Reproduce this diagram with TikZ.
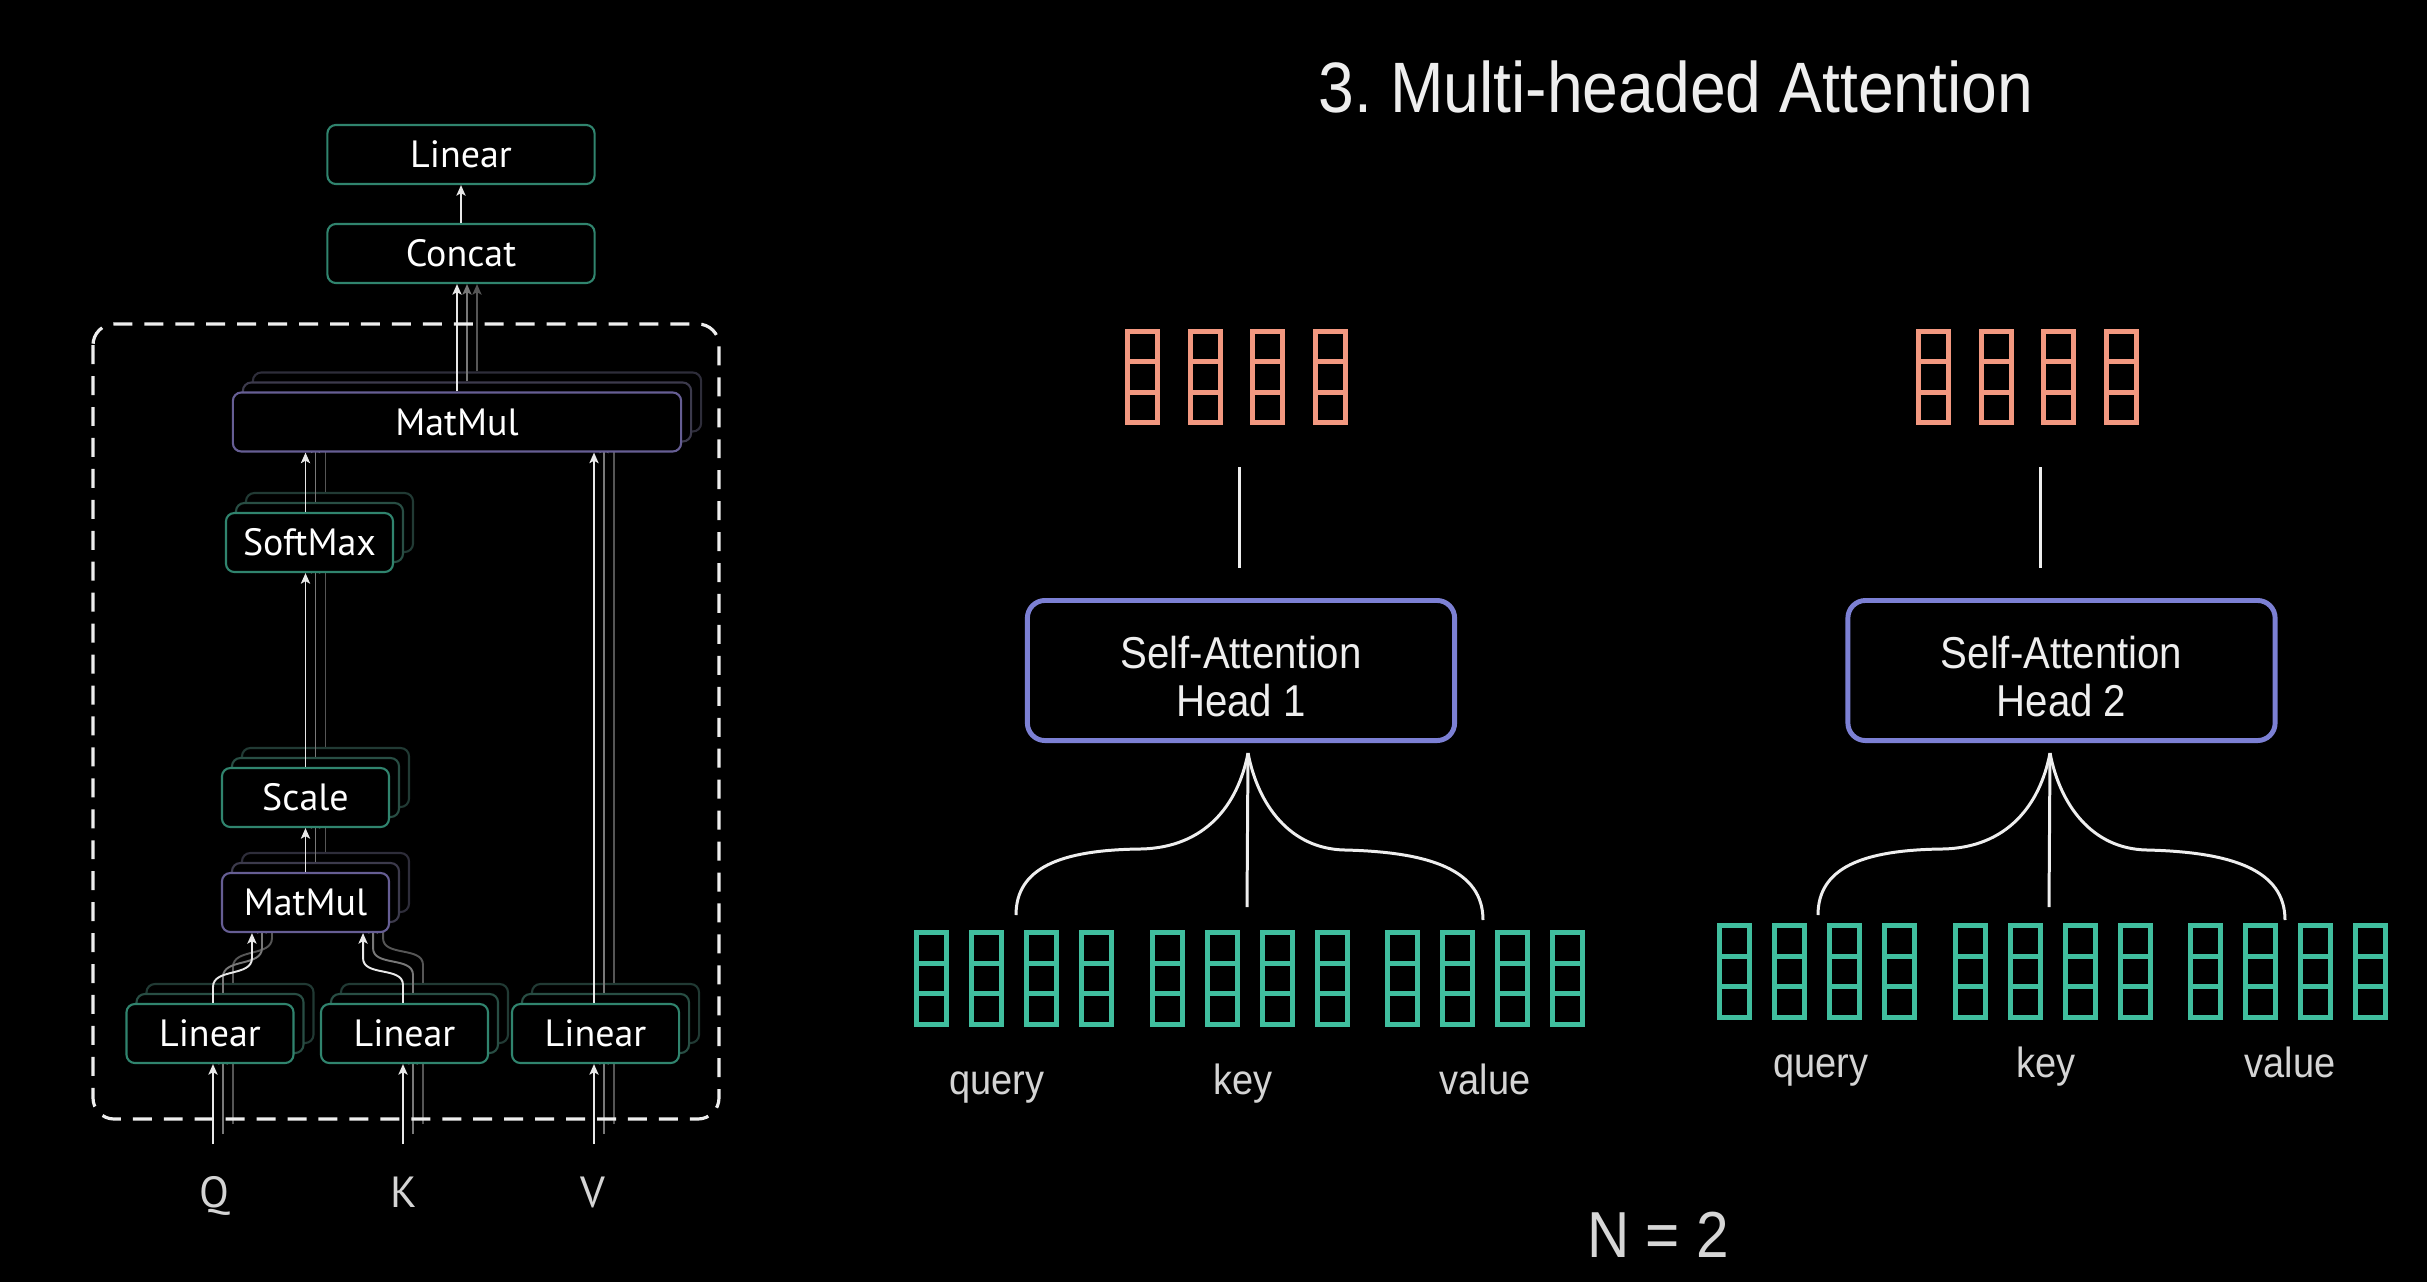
\documentclass[tikz,border=0pt]{standalone}
\usepackage{fontspec}
\usetikzlibrary{arrows.meta, calc, positioning}
\newfontfamily\ptsans{PT Sans}
\newfontfamily\robo[FakeStretch=0.9]{Liberation Sans}
\definecolor{teal0}{RGB}{48, 132, 110}
\definecolor{teal1}{RGB}{40, 78, 68}
\definecolor{teal2}{RGB}{33, 58, 52}
\definecolor{purp0}{RGB}{102, 94, 148}
\definecolor{purp1}{RGB}{60, 58, 76}
\definecolor{purp2}{RGB}{46, 45, 58}
\definecolor{arr0}{RGB}{232, 232, 232}
\definecolor{arr1}{RGB}{120, 120, 120}
\definecolor{arr2}{RGB}{86, 86, 86}
\definecolor{vecgreen}{RGB}{64, 190, 158}
\definecolor{vecorange}{RGB}{242, 152, 128}
\definecolor{headblue}{RGB}{124, 128, 212}
\definecolor{softwhite}{RGB}{238, 238, 238}
\definecolor{labelgrey}{RGB}{212, 212, 212}
\newcommand\lbl[1]{\ifnum\lay=0 #1\fi}

\begin{document}
\begin{tikzpicture}[x=0.01cm, y=-0.01cm,
  opbox/.style={draw=teal0, fill=black, line width=0.6pt, rounded corners=2.4pt,
    minimum width=1.67cm, minimum height=0.59cm, inner sep=0pt, text=white,
    font=\ptsans\fontsize{10.8}{12}\selectfont},
  mulbox/.style={opbox, draw=purp0},
  flow/.style={draw=arr0, line width=0.55pt, -{Stealth[length=3pt, width=2.6pt, inset=0.7pt]}},
  qkv/.style={text=labelgrey, anchor=base, font=\ptsans\fontsize{12.4}{14}\selectfont},
  frame/.style={draw=softwhite, line width=0.9pt, dash pattern=on 5.4pt off 3.4pt, rounded corners=6pt},
  cellg/.style={draw=vecgreen, line width=1.45pt},
  cello/.style={draw=vecorange, line width=1.45pt},
  headbox/.style={draw=headblue, fill=black, line width=1.4pt, rounded corners=5pt,
    minimum width=4.27cm, minimum height=1.40cm},
  headtext/.style={align=center, text=softwhite, yshift=-0.06cm,
    font=\robo\fontsize{12.7}{13.6}\selectfont},
  thin/.style={draw=softwhite, line width=0.85pt},
  word/.style={text=labelgrey, anchor=base, font=\robo\fontsize{12}{14}\selectfont}
]
  \useasboundingbox (0,0) rectangle (2427,1281);
  \fill[black] (-10,-10) rectangle (2437,1291);

  % Output of the heads
  \node[opbox, minimum width=2.67cm] (concat) at (461,253.5) {Concat};
  \node[opbox, minimum width=2.67cm] (lintop) at (461,154.5) {Linear};
  \draw[flow] (concat.north) -- (lintop.south);

  % Stacked heads, back to front
  \foreach \lay in {2,1,0} {
    \begin{scope}[shift={(10*\lay,-10*\lay)},
        opbox/.append style={draw=teal\lay}, mulbox/.append style={draw=purp\lay},
        flow/.append style={draw=arr\lay}]
      \node[opbox] (linq-\lay) at (210,1033.5) {\lbl{Linear}};
      \node[opbox] (link-\lay) at (404.5,1033.5) {\lbl{Linear}};
      \node[opbox] (linv-\lay) at (595.5,1033.5) {\lbl{Linear}};
      \node[mulbox] (mm1-\lay) at (305.5,902.5) {\lbl{MatMul}};
      \node[opbox] (scale-\lay) at (305.5,797.5) {\lbl{Scale}};
      \node[opbox] (soft-\lay) at (309.5,542.5) {\lbl{SoftMax}};
      \node[mulbox, minimum width=4.48cm] (mm2-\lay) at (457,422) {\lbl{MatMul}};
      \coordinate (inq-\lay) at (213,1144);
      \coordinate (ink-\lay) at (403,1144);
      \coordinate (inv-\lay) at (594,1144);

      \draw[flow] (inq-\lay) -- (inq-\lay |- linq-\lay.south);
      \draw[flow] (ink-\lay) -- (ink-\lay |- link-\lay.south);
      \draw[flow] (inv-\lay) -- (inv-\lay |- linv-\lay.south);
      \draw[flow] (inq-\lay |- linq-\lay.north) -- ++(0,-16) to[out=90, in=-90]
        ([xshift=-5.35mm, yshift=-2.5mm]mm1-\lay.south) -- ([xshift=-5.35mm]mm1-\lay.south);
      \draw[flow] (ink-\lay |- link-\lay.north) -- ++(0,-18) to[out=90, in=-90]
        ([xshift=5.75mm, yshift=-2.5mm]mm1-\lay.south) -- ([xshift=5.75mm]mm1-\lay.south);
      \draw[flow] (mm1-\lay.north) -- (scale-\lay.south);
      \draw[flow] (scale-\lay.north) -- (scale-\lay.north |- soft-\lay.south);
      \draw[flow] (scale-\lay.north |- soft-\lay.north) -- (scale-\lay.north |- mm2-\lay.south);
      \draw[flow] (inv-\lay |- linv-\lay.north) -- (inv-\lay |- mm2-\lay.south);
      \draw[flow] (mm2-\lay.north) -- (mm2-\lay.north |- concat.south);
    \end{scope}
  }
  \draw[frame] (93,324) rectangle (719,1119);

  % Inputs
  \node[qkv] (q) at (214,1207) {Q};
  \node[qkv] (k) at (404,1207) {K};
  \node[qkv] (v) at (593,1207) {V};

  % Title
  \node[text=softwhite, anchor=base, font=\robo\fontsize{20.3}{24}\selectfont] (title) at (1676,112) {3.\ Multi-headed Attention};

  % Two self-attention heads
  \foreach \h/\bx/\ox/\lx/\ax/\tx/\ty/\qx/\kx/\vx/\by in {
      1/1241/1125/1239/1248/914/930/997/1243/1485/1094,
      2/2061.5/1916/2040/2050/1717/923/1821/2046/2290/1077} {
    % output vectors
    \foreach \i in {0,...,3} {
      \draw[cello] (\ox+2.5+62.7*\i, 331.5) rectangle ++(30,91);
      \draw[cello] (\ox+2.5+62.7*\i, 361.8) -- ++(30,0) (\ox+2.5+62.7*\i, 392.2) -- ++(30,0);
    }
    \node[headbox, label={[headtext]center:{Self-Attention\\Head \h}}] (sa\h) at (\bx,670.5) {};
    \coordinate (stem\h) at (\lx,467);
    \draw[thin] (stem\h) -- ([yshift=2.95mm]stem\h |- sa\h.north);

    % brace into query, key, value
    \coordinate (apex\h) at (\ax,753);
    \begin{scope}[shift={(apex\h)}]
      \draw[thin] (0,0) .. controls (-10,52) and (-43,95) .. (-108,96)
        .. controls (-188,97) and (-232,115) .. (-232,162);
      \draw[thin] (0,0) .. controls (10,52) and (42,96) .. (97,97)
        .. controls (182,99) and (235,117) .. (235,167);
      \draw[thin] (0,0) -- (-1,154);
    \end{scope}

    % input vectors
    \foreach \g in {0,1,2} {
      \foreach \i in {0,...,3} {
        \draw[cellg] (\tx+2.5+235.7*\g+55*\i, \ty+2.5) rectangle ++(30,92);
        \draw[cellg] (\tx+2.5+235.7*\g+55*\i, \ty+33.2) -- ++(30,0)
          (\tx+2.5+235.7*\g+55*\i, \ty+63.8) -- ++(30,0);
      }
    }
    \node[word] (query\h) at (\qx,\by) {query};
    \node[word] (key\h) at (\kx,\by) {key};
    \node[word] (value\h) at (\vx,\by) {value};
  }

  \node[text=labelgrey!95, anchor=base, font=\robo\fontsize{18.5}{22}\selectfont] (nval) at (1658,1257) {N = 2};
\end{tikzpicture}
\end{document}
